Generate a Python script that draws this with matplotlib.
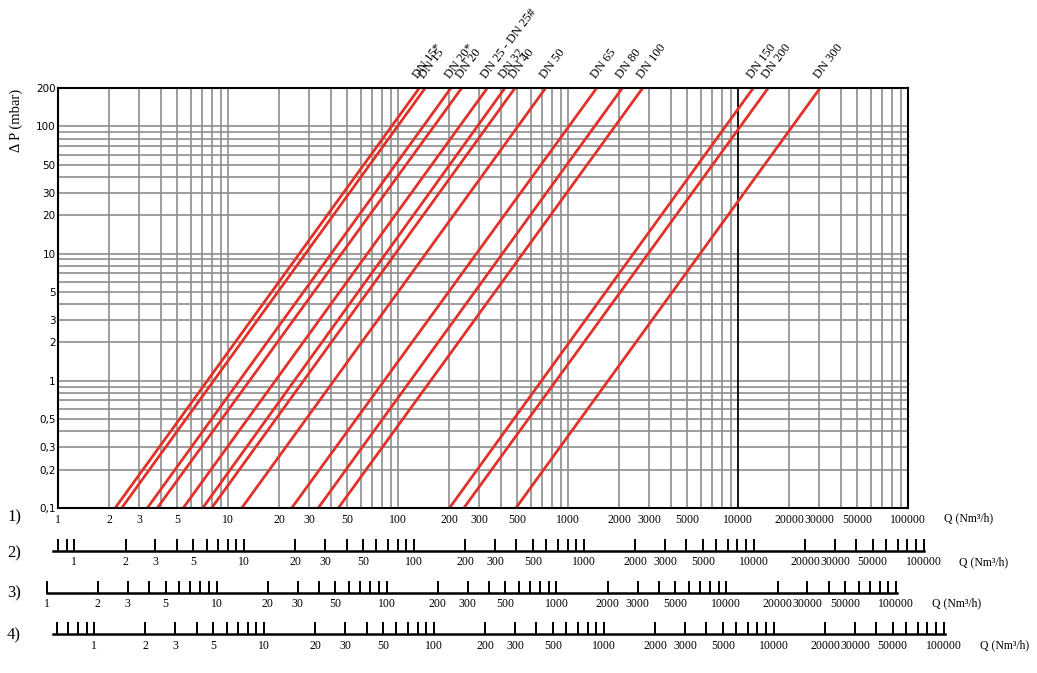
import numpy as np
import matplotlib
matplotlib.use("Agg")
import matplotlib.pyplot as plt
from matplotlib.ticker import FixedLocator, FixedFormatter, NullLocator

plt.rcParams['font.family'] = ['Liberation Serif', 'DejaVu Serif']

# --- data ---
dn_labels = ['DN 15*', 'DN 15', 'DN 20*', 'DN 20', 'DN 25 - DN 25#', 'DN 32', 'DN 40',
             'DN 50', 'DN 65', 'DN 80', 'DN 100', 'DN 150', 'DN 200', 'DN 300']
# flow rate where each curve crosses 0,1 mbar and 200 mbar
q_at_low = [2.16, 2.36, 3.34, 3.82, 5.43, 7.07, 7.98, 12.0, 23.6, 33.8, 44.4, 200, 243, 492]
q_at_high = [133, 144, 204, 236, 334, 424, 486, 736, 1470, 2080, 2740, 12250, 15000, 30300]
dp_low, dp_high = 0.1, 200

y_tick_vals = [0.1, 0.2, 0.3, 0.5, 1, 2, 3, 5, 10, 20, 30, 50, 100, 200]
y_tick_text = ['0,1', '0,2', '0,3', '0,5', '1', '2', '3', '5', '10', '20', '30', '50', '100', '200']
x_label_vals = [1, 2, 3, 5, 10, 20, 30, 50, 100, 200, 300, 500, 1000, 2000, 3000, 5000,
                10000, 20000, 30000, 50000, 100000]
row_names = ['1)', '2)', '3)', '4)']
q_unit = 'Q (Nm³/h)'
# first tick of each extra scale (rows 2, 3, 4)
scale_first_tick = [0.8, 1, 0.6]

# --- layout (pixels) ---
W, H = 1037, 673
DEC = 170.0  # pixels per decade on every Q scale

def fx(p):
    return p / W

def fy(p):
    return 1 - p / H

red = '#e03228'
grid_col = '#8e8e8e'

fig = plt.figure(figsize=(W / 100, H / 100), dpi=100)

# main chart
ax = fig.add_axes([fx(58.3), fy(508), 850 / W, 420 / H])
ax.set_xscale('log')
ax.set_yscale('log')
ax.set_xlim(1, 100000)
ax.set_ylim(dp_low, dp_high)

all_x = [m * 10 ** d for d in range(0, 5) for m in range(1, 10)] + [100000]
all_y = [m * 10 ** d for d in range(-1, 3) for m in range(1, 10) if m * 10 ** d <= 200]
ax.xaxis.set_major_locator(FixedLocator(all_x))
ax.xaxis.set_major_formatter(FixedFormatter([str(v) if v in x_label_vals else '' for v in all_x]))
ax.xaxis.set_minor_locator(NullLocator())
ax.yaxis.set_major_locator(FixedLocator(all_y))
ytxt = dict(zip(y_tick_vals, y_tick_text))
ax.yaxis.set_major_formatter(FixedFormatter([ytxt.get(round(v, 6), '') for v in all_y]))
ax.yaxis.set_minor_locator(NullLocator())
ax.tick_params(axis='both', length=0, labelsize=8.5)
ax.tick_params(axis='x', pad=4)
ax.tick_params(axis='y', pad=2)
for lab in ax.get_yticklabels():
    lab.set_family(['DejaVu Sans'])
    lab.set_fontsize(7.5)
ax.grid(True, color=grid_col, linewidth=1.2)
ax.axvline(10000, color='black', linewidth=1.2, zorder=2)
for s in ax.spines.values():
    s.set_linewidth(1.5)
    s.set_zorder(5)

for lab, ql, qh in zip(dn_labels, q_at_low, q_at_high):
    ax.plot([ql, qh], [dp_low, dp_high], color=red, linewidth=2, solid_capstyle='butt', zorder=3)
    ax.annotate(lab, xy=(qh, dp_high), xytext=(1, 5), textcoords='offset points',
                rotation=53, rotation_mode='anchor', ha='left', va='bottom',
                fontsize=9, annotation_clip=False)

fig.text(fx(16), fy(120), 'Δ P (mbar)', rotation=90, ha='center', va='center', fontsize=10.5)

# extra Q scales: (line y, pixel of value 1, start px, end px)
rows = [(550.7, 74.3, 53.3, 924.0), (592.7, 46.7, 46.7, 896.7), (634.3, 94.3, 52.7, 945.0)]
for (ly, p1, ps, pe), first in zip(rows, scale_first_tick):
    sa = fig.add_axes([fx(ps), fy(ly), (pe - ps) / W, 0.001])
    sa.set_xscale('log')
    sa.set_xlim(10 ** ((ps - p1) / DEC) * 0.999, 10 ** ((pe - p1) / DEC) * 1.006)
    ticks = [v for v in [m * 10 ** d for d in range(-1, 5) for m in range(1, 10)] + [100000]
             if v >= first - 1e-9]
    sa.xaxis.set_major_locator(FixedLocator(ticks))
    sa.xaxis.set_major_formatter(FixedFormatter(
        [str(int(v)) if v in x_label_vals else '' for v in ticks]))
    sa.xaxis.set_minor_locator(NullLocator())
    sa.tick_params(axis='x', direction='in', length=9, width=1.4, pad=4, labelsize=8.5)
    sa.set_yticks([])
    sa.patch.set_visible(False)
    for k in ['top', 'left', 'right']:
        sa.spines[k].set_visible(False)
    sa.spines['bottom'].set_linewidth(1.8)

# row numbers and unit labels
row_y = [517, 553, 593, 635]
unit_pos = [(944, 518), (959, 562), (932, 603), (980, 645)]
for name, yy, (ux, uy) in zip(row_names, row_y, unit_pos):
    fig.text(fx(14), fy(yy), name, ha='center', va='center', fontsize=12)
    fig.text(fx(ux), fy(uy), q_unit, ha='left', va='center', fontsize=8.5)

fig.savefig('out.png', dpi=100)
